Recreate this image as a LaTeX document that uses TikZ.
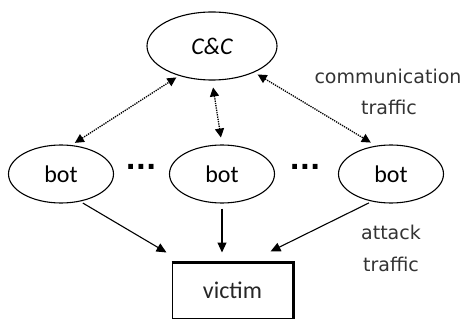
\documentclass[tikz,border=0pt]{standalone}
\usepackage{fontspec}
\setmainfont{Carlito}
\newfontfamily\lblfont{DejaVu Sans}
\usetikzlibrary{shapes.geometric,arrows.meta}
\begin{document}
\begin{tikzpicture}[x=1pt,y=-1pt,
  ell/.style={ellipse,draw,line width=1.1pt,inner sep=0pt},
  botnode/.style={ell,minimum width=105pt,minimum height=58pt,font=\fontsize{24}{28}\selectfont},
  dotarrow/.style={densely dotted,line width=1.3pt,{Triangle[length=9pt,width=9pt]}-{Triangle[length=9pt,width=9pt]}},
  solidarrow/.style={line width=1.1pt,-{Triangle[length=10pt,width=9pt]}},
  lbl/.style={font=\lblfont\fontsize{19}{22}\selectfont,text=black!80},
  dots/.style={font=\lblfont\bfseries\fontsize{27}{30}\selectfont,inner sep=0pt}
]
\useasboundingbox (0,0) rectangle (464,321);
\node[ell,minimum width=130pt,minimum height=68pt,font=\fontsize{24}{28}\selectfont\itshape] (cc) at (212,46) {C\&C};
\node[botnode] (b1) at (61,174) {bot};
\node[botnode] (b2) at (222,174) {bot};
\node[botnode] (b3) at (391,174) {bot};
\node[dots] (d1) at (141,167) {...};
\node[dots] (d2) at (305,167) {...};
\node[draw,line width=1pt,minimum width=121pt,minimum height=55pt,font=\fontsize{24}{28}\selectfont,text=black!85] (v) at (232.5,290.5) {victim};
\draw[line width=2.2pt] (v.north west) -- (v.north east) -- (v.south east);
\node[lbl] (comm) at (388,76) {communication};
\node[lbl] (ct) at (389,107) {traffic};
\node[lbl] (att) at (391,232) {attack};
\node[lbl] (at) at (391,264) {traffic};
\draw[dotarrow,shorten <=4pt,shorten >=3pt] (b1.70) -- (cc.222);
\draw[dotarrow,shorten <=7pt,shorten >=7pt] (cc.south) -- (b2.north);
\draw[dotarrow,shorten <=4pt,shorten >=6pt] (cc.-32) -- (b3.118);
\draw[solidarrow,shorten <=3pt] (b1.-55) -- ([shift={(-5,-10)}]v.north west);
\draw[solidarrow,shorten <=5pt] (b2.south) -- ([shift={(-10.5,-10)}]v.north);
\draw[solidarrow,shorten <=3pt] (b3.-125) -- ([shift={(-23,-11)}]v.north east);
\end{tikzpicture}
\end{document}
